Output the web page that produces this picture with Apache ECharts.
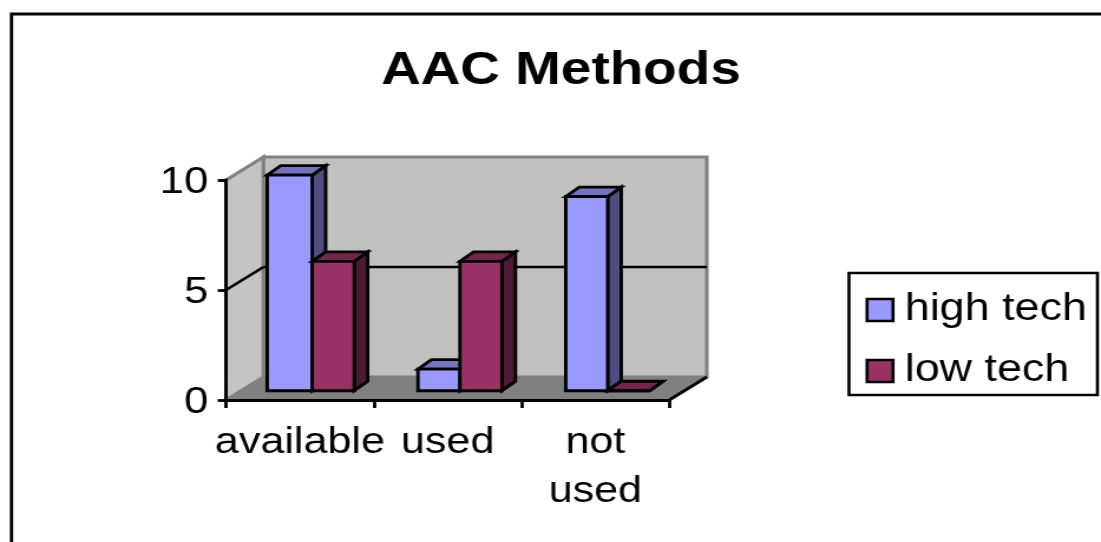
<!DOCTYPE html>
<html>
<head>
<meta charset="utf-8">
<style>
html,body{margin:0;padding:0;background:#fff;overflow:hidden;width:1101px;height:542px}
#c{position:absolute;left:0;top:0;height:542px;transform-origin:0 0}
</style>
<script src="https://cdn.jsdelivr.net/npm/echarts@6/dist/echarts.min.js"></script>
</head>
<body>
<div id="c"></div>
<script>
const titleText = 'AAC Methods';
const categories = ['available', 'used', 'not\nused'];
const seriesNames = ['high tech', 'low tech'];
const highTech = [10, 1, 9];
const lowTech = [6, 6, 0];
const yTicks = [0, 5, 10];

const S = 1.18; // the reference is horizontally stretched as a whole
const el = document.getElementById('c');
el.style.width = (1101 / S) + 'px';
el.style.transform = 'scaleX(' + S + ')';
const chart = echarts.init(el, null, { renderer: 'canvas', width: 1101 / S, height: 542 });

const FONT = '"Liberation Sans", Arial, sans-serif';
const wallD = [37.5 / S, -23];
const barD = [13.5 / S, -9.5];
const barW = 42 / S;
const barShift = [12.3 / S, -9.3];
const barScale = 0.98;
const LW = 2.9;

function poly(points, fill, stroke, lw) {
  return { type: 'polygon', shape: { points }, style: { fill, stroke, lineWidth: lw, lineJoin: 'miter' } };
}
function line(a, b, stroke, lw) {
  return { type: 'line', shape: { x1: a[0], y1: a[1], x2: b[0], y2: b[1] }, style: { stroke, lineWidth: lw } };
}
function wallsItem(params, api) {
  const band = api.size([1, 0])[0];
  const x0 = api.coord([0, 0])[0] - band / 2;
  const x1 = api.coord([categories.length - 1, 0])[0] + band / 2;
  const yB = api.coord([0, yTicks[0]])[1];
  const yT = api.coord([0, yTicks[yTicks.length - 1]])[1];
  const d = wallD, g = '#808080';
  const kids = [
    poly([[x0, yB], [x0 + d[0], yB + d[1]], [x1 + d[0], yB + d[1]], [x1, yB]], '#808080', g, 1),
    poly([[x0, yB], [x0, yT], [x0 + d[0], yT + d[1]], [x0 + d[0], yB + d[1]]], '#C4C4C4', g, 3),
    poly([[x0 + d[0], yB + d[1]], [x0 + d[0], yT + d[1]], [x1 + d[0], yT + d[1]], [x1 + d[0], yB + d[1]]], '#C0C0C0', g, 3),
    line([x1, yB], [x1 + d[0], yB + d[1]], '#000', 2.8)
  ];
  yTicks.slice(1, -1).forEach(function (t) {
    const y = api.coord([0, t])[1];
    kids.push(line([x0, y], [x0 + d[0], y + d[1]], '#000', 2.6));
    kids.push(line([x0 + d[0], y + d[1]], [x1 + d[0], y + d[1]], '#000', 2.6));
  });
  return { type: 'group', children: kids };
}
function barItem(isHigh, front, side, top) {
  return function (params, api) {
    const i = api.value(0), v = api.value(1);
    const p0 = api.coord([i, 0]), p1 = api.coord([i, v]);
    const mid = p0[0] + barShift[0];
    let l = isHigh ? mid - barW : mid;
    const r = isHigh ? mid : mid + barW;
    if (isHigh && i === 0) l -= 3 / S;
    const yb = p0[1] + barShift[1];
    const yt = p0[1] + (p1[1] - p0[1]) * barScale + barShift[1];
    const dx = barD[0], dy = barD[1];
    return {
      type: 'group',
      children: [
        poly([[r, yb], [r + dx, yb + dy], [r + dx, yt + dy], [r, yt]], side, '#000', LW),
        poly([[l, yt], [l + dx, yt + dy], [r + dx, yt + dy], [r, yt]], top, '#000', LW),
        poly([[l, yb], [l, yt], [r, yt], [r, yb]], front, '#000', LW)
      ]
    };
  };
}

chart.setOption({
  animation: false,
  backgroundColor: '#fff',
  title: {
    text: titleText,
    left: 555 / S,
    top: 43,
    textAlign: 'center',
    textStyle: { fontFamily: FONT, fontSize: 46.5, fontWeight: 'bold', color: '#000' }
  },
  legend: {
    orient: 'vertical',
    left: 849 / S,
    top: 273,
    data: seriesNames.map(function (n) { return { name: n, icon: 'rect' }; }),
    itemWidth: 22,
    itemHeight: 22,
    itemGap: 23,
    padding: [18, 9, 5, 14],
    borderColor: '#000',
    borderWidth: 2.6,
    itemStyle: { borderColor: '#000', borderWidth: 2.6 },
    textStyle: { fontFamily: FONT, fontSize: 38, color: '#000', padding: [0, 0, 0, 5] }
  },
  graphic: [{
    type: 'rect', z: -1,
    shape: { x: 11.5 / S, y: 14, width: 1300, height: 800 },
    style: { fill: 'none', stroke: '#000', lineWidth: 2.8 }
  }],
  grid: { left: 226 / S, top: 180, width: (669.3 - 226) / S, height: 220 },
  xAxis: {
    type: 'category',
    data: categories,
    z: 5,
    axisLine: { onZero: false, lineStyle: { color: '#000', width: 2.8 } },
    axisTick: { show: true, alignWithLabel: false, length: 8, lineStyle: { color: '#000', width: 2.8 } },
    axisLabel: { interval: 0, margin: 18, fontFamily: FONT, fontSize: 36.5, color: '#000', lineHeight: 49, hideOverlap: false }
  },
  yAxis: {
    type: 'value', min: 0, max: 10, interval: 5,
    z: 5,
    splitLine: { show: false },
    axisLine: { show: true, lineStyle: { color: '#000', width: 2.8 } },
    axisTick: { show: true, length: 7, lineStyle: { color: '#000', width: 2.8 } },
    axisLabel: { margin: 15, fontFamily: FONT, fontSize: 37, color: '#000', verticalAlign: 'top', lineHeight: 5 }
  },
  series: [
    { type: 'custom', name: 'walls', silent: true, z: 1, data: [[0, 0]], encode: { x: 0, y: 1 }, renderItem: wallsItem },
    { type: 'custom', name: seriesNames[0], silent: true, z: 2, itemStyle: { color: '#9999FF' },
      data: highTech.map(function (v, i) { return [i, v]; }), encode: { x: 0, y: 1 },
      renderItem: barItem(true, '#9999FF', '#4D4D80', '#7373BF') },
    { type: 'custom', name: seriesNames[1], silent: true, z: 3, itemStyle: { color: '#993366' },
      data: lowTech.map(function (v, i) { return [i, v]; }), encode: { x: 0, y: 1 },
      renderItem: barItem(false, '#993366', '#4D1A33', '#73264D') }
  ]
});
</script>
</body>
</html>
